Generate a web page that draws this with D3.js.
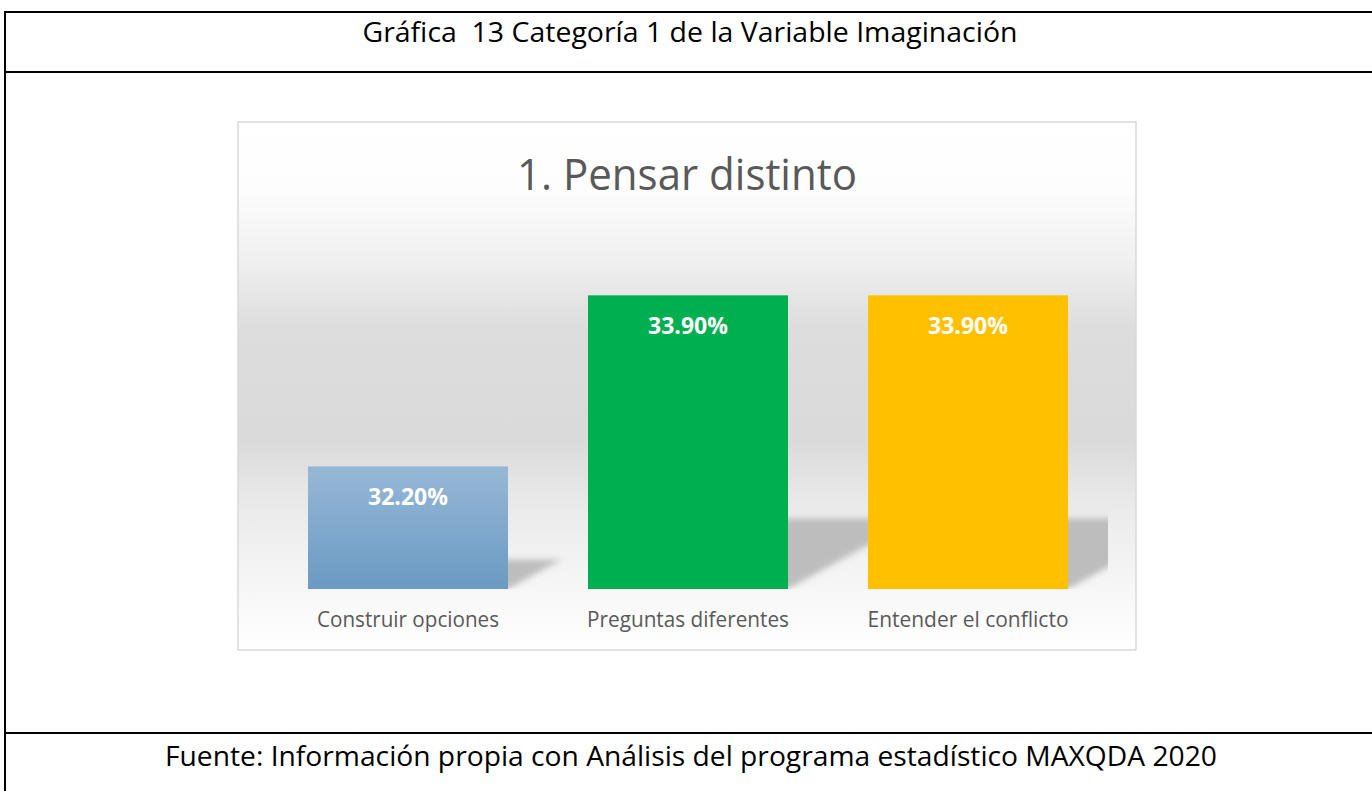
<!DOCTYPE html>
<html>
<head>
<meta charset="utf-8">
<script src="https://cdn.jsdelivr.net/npm/d3@7"></script>
<style>
  html, body { margin: 0; padding: 0; background: #ffffff; }
  svg { display: block; }
  text { white-space: pre; }
</style>
</head>
<body>
<svg id="chart" width="1372" height="791"></svg>
<script>
// ---- data ----
const categories = ["Construir opciones", "Preguntas diferentes", "Entender el conflicto"];
const values = [32.2, 33.9, 33.9];
const valueLabels = ["32.20%", "33.90%", "33.90%"];
const yDomain = [30.98, 34.48];
const headerText = "Gráfica  13 Categoría 1 de la Variable Imaginación";
const chartTitle = "1. Pensar distinto";
const sourceText = "Fuente: Información propia con Análisis del programa estadístico MAXQDA 2020";

// ---- layout ----
const W = 1372, H = 791;
const svg = d3.select("#chart");
const defs = svg.append("defs");
const FONT = "'Open Sans', 'Noto Sans', sans-serif";

// outer table lines
const frame = svg.append("g").attr("stroke", "#000").attr("stroke-width", 2);
frame.append("line").attr("x1", 4).attr("x2", W).attr("y1", 12).attr("y2", 12);
frame.append("line").attr("x1", 4).attr("x2", W).attr("y1", 72).attr("y2", 72);
frame.append("line").attr("x1", 4).attr("x2", W).attr("y1", 733).attr("y2", 733);
frame.append("line").attr("x1", 5).attr("x2", 5).attr("y1", 11).attr("y2", H);

svg.append("text")
  .attr("x", 690).attr("y", 42)
  .attr("text-anchor", "middle")
  .attr("font-family", FONT).attr("font-size", 27)
  .attr("fill", "#000")
  .attr("textLength", 655).attr("lengthAdjust", "spacingAndGlyphs")
  .text(headerText);

svg.append("text")
  .attr("x", 691).attr("y", 766)
  .attr("text-anchor", "middle")
  .attr("font-family", FONT).attr("font-size", 27)
  .attr("fill", "#000")
  .attr("textLength", 1052).attr("lengthAdjust", "spacingAndGlyphs")
  .text(sourceText);

// chart area
const box = {x: 238, y: 122, w: 898, h: 528};
const bg = defs.append("linearGradient").attr("id", "bgGrad")
  .attr("x1", 0).attr("x2", 0).attr("y1", 0).attr("y2", 1);
[[0, "#ffffff"], [0.13, "#fdfdfd"], [0.26, "#f0f0f0"], [0.39, "#dddddd"],
 [0.60, "#dadada"], [0.735, "#ebebeb"], [0.85, "#f4f4f4"], [1, "#ffffff"]]
  .forEach(([o, c]) => bg.append("stop").attr("offset", o).attr("stop-color", c));

svg.append("rect")
  .attr("x", box.x).attr("y", box.y).attr("width", box.w).attr("height", box.h)
  .attr("fill", "url(#bgGrad)")
  .attr("stroke", "#d9d9d9").attr("stroke-width", 1.5);

svg.append("text")
  .attr("x", box.x + box.w / 2).attr("y", 190)
  .attr("text-anchor", "middle")
  .attr("font-family", FONT).attr("font-size", 44)
  .attr("fill", "#595959")
  .attr("textLength", 340).attr("lengthAdjust", "spacingAndGlyphs")
  .text(chartTitle);

// plot area
const plot = {left: 268, right: 1108, top: 237, bottom: 589};
const x = d3.scaleBand().domain(categories)
  .range([plot.left, plot.right]).paddingInner(0.2857).paddingOuter(0.1428);
const y = d3.scaleLinear().domain(yDomain).range([plot.bottom, plot.top]);

defs.append("clipPath").attr("id", "plotClip")
  .append("rect").attr("x", plot.left).attr("y", plot.top)
  .attr("width", plot.right - plot.left).attr("height", plot.bottom - plot.top);
defs.append("filter").attr("id", "blur").attr("x", "-20%").attr("y", "-20%")
  .attr("width", "140%").attr("height", "140%")
  .append("feGaussianBlur").attr("stdDeviation", 3);

// perspective shadows
const shadowG = svg.append("g").attr("clip-path", "url(#plotClip)");
shadowG.selectAll("polygon").data(values).join("polygon")
  .attr("points", (d, i) => {
    const x0 = x(categories[i]), x1 = x0 + x.bandwidth();
    const h = y(yDomain[0]) - y(d);
    const sh = h * 0.24, dx = sh / 0.55;
    const b = y(yDomain[0]);
    return [[x0, b], [x1, b], [x1 + dx, b - sh], [x0 + dx, b - sh]].map(p => p.join(",")).join(" ");
  })
  .attr("fill", "#bdbdbd")
  .attr("filter", "url(#blur)");

// bars
const blueGrad = defs.append("linearGradient").attr("id", "blueGrad")
  .attr("x1", 0).attr("x2", 0).attr("y1", 0).attr("y2", 1);
blueGrad.append("stop").attr("offset", 0).attr("stop-color", "#96b8d6");
blueGrad.append("stop").attr("offset", 1).attr("stop-color", "#6b9ac3");
const barFills = ["url(#blueGrad)", "#00b050", "#ffc000"];

svg.append("g").selectAll("rect").data(values).join("rect")
  .attr("x", (d, i) => x(categories[i]))
  .attr("y", d => y(d))
  .attr("width", x.bandwidth())
  .attr("height", d => y(yDomain[0]) - y(d))
  .attr("fill", (d, i) => barFills[i]);

svg.append("g").selectAll("text").data(values).join("text")
  .attr("x", (d, i) => x(categories[i]) + x.bandwidth() / 2)
  .attr("y", d => y(d) + 39)
  .attr("text-anchor", "middle")
  .attr("font-family", FONT).attr("font-weight", "bold").attr("font-size", 23)
  .attr("fill", "#ffffff")
  .attr("textLength", 80).attr("lengthAdjust", "spacingAndGlyphs")
  .text((d, i) => valueLabels[i]);

// category axis labels
const catW = [182, 202, 201];
svg.append("g").selectAll("text").data(categories).join("text")
  .attr("x", d => x(d) + x.bandwidth() / 2)
  .attr("y", 627)
  .attr("text-anchor", "middle")
  .attr("font-family", FONT).attr("font-size", 21)
  .attr("fill", "#595959")
  .attr("textLength", (d, i) => catW[i]).attr("lengthAdjust", "spacingAndGlyphs")
  .text(d => d);
</script>
</body>
</html>
